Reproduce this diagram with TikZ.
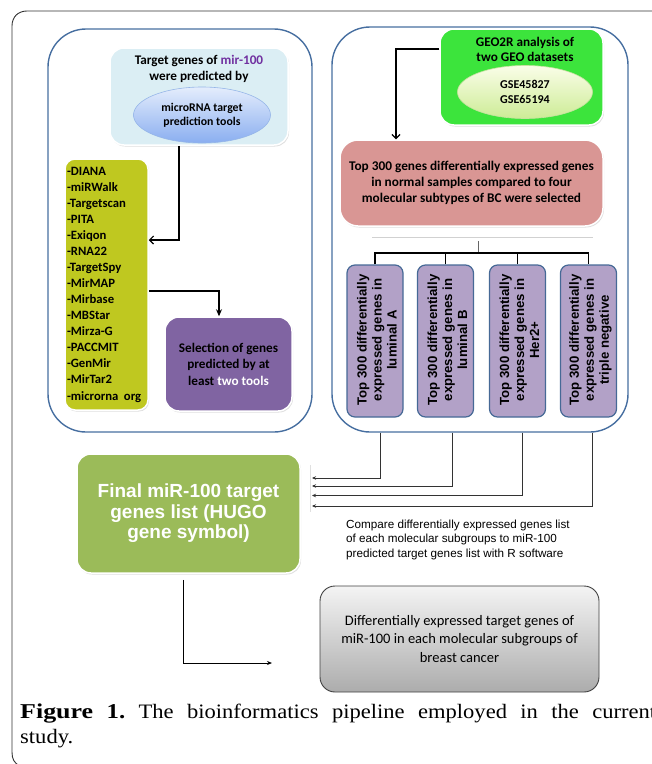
\documentclass[tikz,border=0pt]{standalone}
\usepackage{fontspec}
\newfontfamily\calfont{Carlito}
\newfontfamily\arsfont{Liberation Sans}
\newfontfamily\tmsfont[FakeStretch=1.1]{Liberation Serif}
\usetikzlibrary{arrows.meta,shadows,shapes.geometric}
\definecolor{panelc}{RGB}{70,110,160}
\definecolor{framec}{RGB}{50,50,50}
\definecolor{lbluec}{RGB}{219,238,244}
\definecolor{mirc}{RGB}{112,48,160}
\definecolor{ellatop}{RGB}{228,237,252}
\definecolor{ellabot}{RGB}{138,174,240}
\definecolor{ellaborder}{RGB}{150,182,232}
\definecolor{olivec}{RGB}{191,200,32}
\definecolor{selc}{RGB}{128,100,162}
\definecolor{geoc}{RGB}{60,228,60}
\definecolor{ellbtop}{RGB}{250,253,232}
\definecolor{ellbbot}{RGB}{205,236,150}
\definecolor{ellbborder}{RGB}{200,225,160}
\definecolor{pinkc}{RGB}{217,150,148}
\definecolor{vboxc}{RGB}{178,161,199}
\definecolor{vboxborder}{RGB}{70,105,150}
\definecolor{finalc}{RGB}{155,187,89}
\definecolor{graytop}{RGB}{244,244,244}
\definecolor{graybot}{RGB}{172,172,172}
\begin{document}
\frenchspacing
\begin{tikzpicture}[x=1pt,y=-1pt,
  panel/.style={draw=panelc, line width=1.4pt, rounded corners=38pt, inner sep=0pt},
  softbox/.style={draw=white, line width=1.5pt, inner sep=0pt, rounded corners=14pt,
    drop shadow={opacity=0.25,shadow xshift=1pt,shadow yshift=-1.5pt}},
  boxfont/.style={font=\calfont\bfseries\fontsize{13.2}{16}\selectfont, align=center},
  vbox/.style={draw=vboxborder, line width=1.2pt, fill=vboxc, rounded corners=8pt,
    minimum width=56, minimum height=152, inner sep=0pt},
  vtext/.style={rotate=90, align=center, inner sep=0pt,
    font=\arsfont\bfseries\fontsize{13.2}{15}\selectfont},
  conn/.style={line width=1.2pt, -{Stealth[length=7pt,width=6pt]}},
  barb/.style={line width=1.2pt, -{Straight Barb[length=4pt,width=8pt,line width=1.2pt]}},
  smallarr/.style={line width=0.8pt, draw=black!80, -{Stealth[length=4pt,width=3.5pt]}},
  tree/.style={line width=1.1pt}
]
\useasboundingbox (0,0) rectangle (652,764);
% outer frame
\draw[framec, line width=0.9pt] (720,11) -- (27,11) .. controls (18,11) and (12,17) .. (12,26)
  -- (12,752) .. controls (12,759) and (14,763) .. (20,766);

% panels
\node[panel, minimum width=264, minimum height=403] (lpanel) at (180,230.5) {};
\node[panel, minimum width=296, minimum height=405] (rpanel) at (480,229.5) {};

% left panel content
\node[softbox, fill=lbluec, minimum width=178, minimum height=97] (lblue) at (199,96.5) {};
\node[boxfont, inner sep=0pt] (lbluetxt) at (199,69) {Target genes of \textcolor{mirc}{mir-100}\\were predicted by};
\node[ellipse, minimum width=137, minimum height=56, inner sep=0pt, top color=ellatop, bottom color=ellabot,
  draw=ellaborder, line width=0.6pt, font=\calfont\bfseries\fontsize{11.8}{14}\selectfont, align=center] (tools) at (202,115) {microRNA target\\prediction tools};

\node[softbox, rounded corners=10pt, fill=olivec, minimum width=83, minimum height=251, inner xsep=2pt,
  text width=79, align=left, font=\calfont\bfseries\fontsize{12.7}{16.07}\selectfont] (list) at (106.5,284.5)
  {-DIANA\\-miRWalk\\-Targetscan\\-PITA\\-Exiqon\\-RNA22\\-TargetSpy\\-MirMAP\\-Mirbase\\-MBStar\\-Mirza-G\\-PACCMIT\\-GenMir\\-MirTar2\\-microrna\hspace{5.5pt}org};

\node[softbox, fill=selc, minimum width=127, minimum height=94, boxfont, font=\calfont\bfseries\fontsize{13.2}{16.5}\selectfont] (sel) at (228.5,364)
  {Selection of genes\\predicted by at\\least \textcolor{white}{two tools}};

\draw[barb] ([xshift=-20pt]lblue.south) |- (list.east |- 0,240);
\draw[conn] (list.east |- 0,291) -| ([xshift=-9.5pt]sel.north);

% right panel content
\node[softbox, fill=geoc, minimum width=163, minimum height=96] (geo) at (521.5,77) {};
\node[boxfont, inner sep=0pt, font=\calfont\bfseries\fontsize{13.2}{15.5}\selectfont] (geotxt) at (525,49.5) {GEO2R analysis of\\two GEO datasets};
\node[ellipse, minimum width=135, minimum height=53, inner sep=0pt, top color=ellbtop, bottom color=ellbbot,
  draw=ellbborder, line width=0.6pt, font=\calfont\bfseries\fontsize{12}{14.5}\selectfont, align=center] (gse) at (525,92) {GSE45827\\GSE65194};

\node[softbox, fill=pinkc, rounded corners=18pt, minimum width=263, minimum height=86, boxfont, font=\calfont\bfseries\fontsize{13.3}{16}\selectfont] (pink) at (471.5,183)
  {Top 300 genes differentially expressed genes\\in normal samples compared to four\\molecular subtypes of BC were selected};

\draw[barb] (geo.west |- 0,49) -| ([xshift=-75.5pt]pink.north);

% tree
\coordinate (sepL) at (372,237.5);
\coordinate (sepR) at (593,237.5);
\draw[black!18, line width=0.8pt] (sepL) -- (sepR);
\coordinate (tc) at (478,241);

\node[vbox] (b1) at (375,341) {};
\node[vbox] (b2) at (445.5,341) {};
\node[vbox] (b3) at (517.5,341) {};
\node[vbox] (b4) at (588.5,341) {};
\node[vtext] (t1) at (377,340) {Top 300 differentially\\expressed genes in\\luminal A};
\node[vtext] (t2) at (447.5,340) {Top 300 differentially\\expressed genes in\\luminal B};
\node[vtext] (t3) at (519.5,340) {Top 300 differentially\\expressed genes in\\Her2+};
\node[vtext] (t4) at (590.5,340) {Top 300 differentially\\expressed genes in\\triple negative};

\draw[black!60, line width=0.8pt] (tc) -- (tc |- 0,253);
\draw[tree] (b1.north) |- (b4.north |- 0,253) -- (b4.north);
\draw[tree] (b2.north) -- (b2.north |- 0,253);
\draw[tree] (b3.north) -- (b3.north |- 0,253);

% final box
\node[softbox, fill=finalc, minimum width=223, minimum height=119, align=center, text=white,
  font=\arsfont\bfseries\fontsize{19}{20.5}\selectfont] (final) at (188.5,513.5)
  {Final miR-100 target\\genes list (HUGO\\gene symbol)};

\coordinate (in1) at (312,478);
\coordinate (in2) at (312,486);
\coordinate (in3) at (312,495.5);
\coordinate (in4) at (312,506);
\draw[black!12, line width=1.5pt] (310.5,465) -- (310.5,512);
\draw[smallarr] ([xshift=5pt]b1.south |- rpanel.south) |- (in1);
\draw[smallarr] ([xshift=6.5pt]b2.south |- rpanel.south) |- (in2);
\draw[smallarr] ([xshift=4.5pt]b3.south |- rpanel.south) |- (in3);
\draw[smallarr] ([xshift=3.5pt]b4.south |- rpanel.south) |- (in4);

\node[anchor=north west, inner sep=0pt, align=left, font=\arsfont\fontsize{11.7}{14.5}\selectfont] (cmp) at (346,519.5)
  {Compare differentially expressed genes list\\of each molecular subgroups to miR-100\\predicted target genes list with R software};

% result box
\node[draw=black!75, line width=0.9pt, rounded corners=15pt, top color=graytop, bottom color=graybot,
  minimum width=279, minimum height=106, inner sep=0pt, align=center,
  font=\calfont\fontsize{14.5}{18.5}\selectfont] (res) at (459.5,639)
  {Differentially expressed target genes of\\miR-100 in each molecular subgroups of\\breast cancer};

\coordinate (resin) at (272,663);
\draw[line width=0.8pt, -{Stealth[length=5pt,width=4pt]}] ([xshift=-5.5pt,yshift=-6pt]final.south) |- (resin);

% caption
\node[anchor=base west, inner sep=0pt, font=\tmsfont\fontsize{20.5}{25}\selectfont] (cap1) at (20,718)
  {\makebox[636pt][s]{\scalebox{1.15}[1.03]{\textbf{Figure}}\ \scalebox{1.1}[1.03]{\textbf{1.}} The bioinformatics pipeline employed in the current}};
\node[anchor=base west, inner sep=0pt, font=\tmsfont\fontsize{20.5}{25}\selectfont] (cap2) at (20,743) {study.};
\end{tikzpicture}
\end{document}
